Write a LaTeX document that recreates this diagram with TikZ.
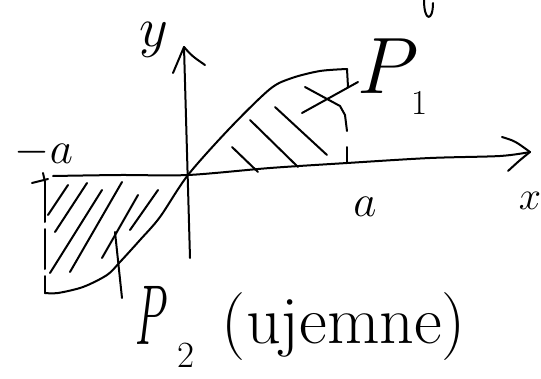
\RequirePackage{fix-cm}
\documentclass[tikz,border=0pt]{standalone}
\begin{document}
\begin{tikzpicture}[x=1pt,y=-1pt,
  ink/.style={line width=2pt,line cap=round,line join=round,black},
  hatch/.style={ink},
  lbl/.style={inner sep=1pt,anchor=center,text=black}]
\useasboundingbox[fill=white] (0,0) rectangle (541,378);
% named coordinates
\coordinate (O) at (188,175);
\coordinate (xs) at (53,176);
\coordinate (xe) at (530,152);
\coordinate (ys) at (190,258);
\coordinate (ye) at (184,47);
% axes
\draw[ink] plot[smooth,tension=0.5] coordinates {(xs) (120,175) (O) (270,168) (347,163) (430,158) (500,156) (xe)};
\draw[ink] (502,137) .. controls (515,141) .. (xe) .. controls (520,160) .. (508,171);
\draw[ink] (ys) -- (ye);
\draw[ink] (173,73) .. controls (178,60) .. (ye) .. controls (192,56) .. (205,65);
% tick at -a
\draw[ink] (32,183) -- (48,179);
\draw[ink] (43,173) -- (45,182);
% curve
\draw[ink] plot[smooth,tension=0.5] coordinates {(45,293) (58,293) (83,287) (107,275) (120,262) (140,240) (160,217) (O) (230,128) (270,89) (292,78) (320,71) (347,69)};
% dashed verticals
\draw[ink,dash pattern=on 40pt off 7pt] (45,182) -- (45,293);
\draw[ink] (347,69) -- (348,87);
\draw[ink] (345,115) -- (347,131);
\draw[ink] (347,147) -- (347,163);
% hatching upper region
\draw[hatch] (232,147) -- (258,172);
\draw[hatch] (250,120) -- (298,167);
\draw[hatch] (275,107) -- (327,155);
\draw[hatch] (305,87) -- (340,106) -- (345,115);
\draw[ink] (302,113) -- (358,82);
% hatching lower region
\draw[hatch] (48,215) -- (68,185);
\draw[hatch] (55,232) -- (87,183);
\draw[hatch] (50,273) -- (102,190);
\draw[hatch] (70,272) -- (122,182);
\draw[hatch] (102,258) -- (138,195);
\draw[hatch] (130,230) -- (158,190);
\draw[ink] (115,232) -- (122,298);
% fragment at top
\draw[ink] (424,0) .. controls (424,22) and (433,22) .. (433,3);
% labels
\node[lbl,font=\fontsize{56}{56}\selectfont] (ylab) at (154,40) {$y$};
\node[lbl,font=\fontsize{40}{40}\selectfont] (xlab) at (530,201) {$x$};
\node[lbl,font=\fontsize{45}{45}\selectfont] (alab) at (365,207) {$a$};
\node[lbl,font=\fontsize{45}{45}\selectfont] (malab) at (44,152) {$-a$};
\node[lbl,font=\fontsize{80}{80}\selectfont] (P1) at (388,66) {$P$};
\node[lbl,font=\fontsize{35}{35}\selectfont] (P1s) at (420,103) {1};
\node[lbl,font=\fontsize{85}{85}\selectfont,xscale=0.5] (P2) at (152,315) {$P$};
\node[lbl,font=\fontsize{37}{37}\selectfont] (P2s) at (186,355) {2};
\node[lbl,font=\fontsize{68}{68}\selectfont] (uj) at (344,327) {(ujemne)};
\end{tikzpicture}
\end{document}
